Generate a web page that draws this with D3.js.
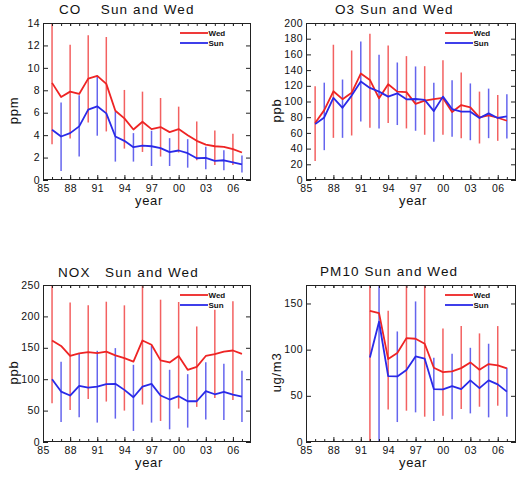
<!DOCTYPE html>
<html><head><meta charset="utf-8">
<script src="https://cdn.jsdelivr.net/npm/d3@7"></script>
<style>
html,body{margin:0;padding:0;background:#fff;}
svg{display:block;}
text{font-family:"Liberation Sans",Arial,Helvetica,sans-serif;fill:#111;}
</style></head>
<body>
<script>
const years = [1986,1987,1988,1989,1990,1991,1992,1993,1994,1995,1996,1997,1998,1999,2000,2001,2002,2003,2004,2005,2006,2007];
const xMajorTicks = [1985,1988,1991,1994,1997,2000,2003,2006];
const xTickLabels = ["85","88","91","94","97","00","03","06"];
const seriesNames = ["Wed","Sun"];

// CO (ppm)
const coWed = [8.66,7.4,7.88,7.67,9.04,9.28,8.57,6.18,5.49,4.5,5.19,4.54,4.72,4.27,4.54,4.0,3.49,3.16,3.01,2.96,2.75,2.45];
const coSun = [4.48,3.88,4.18,4.78,6.27,6.57,5.94,3.88,3.49,2.93,3.07,3.01,2.84,2.48,2.63,2.39,1.94,1.97,1.7,1.76,1.58,1.4];
const coWedHi = [14.5,null,12.06,null,12.9,null,12.75,null,8.03,null,7.88,null,7.31,null,6.54,null,5.22,null,4.42,null,4.12,null];
const coWedLo = [3.19,null,3.7,null,5.13,null,4.33,null,2.8,null,2.5,null,2.09,null,2.45,null,1.76,null,1.34,null,1.34,null];
const coSunHi = [null,6.9,null,7.55,null,9.31,null,6.12,null,4.18,null,4.39,null,3.73,null,3.64,null,2.96,null,2.66,null,2.18];
const coSunLo = [null,0.8,null,2.09,null,3.95,null,1.64,null,1.64,null,1.25,null,1.25,null,1.1,null,0.96,null,0.87,null,0.66];
const coTicks = [0,2,4,6,8,10,12,14];

// O3 (ppb)
const o3Wed = [72.5,89,113,103,111,135.6,127.5,104,122,112.6,112,97,101,103,104.5,86.6,95.5,92.5,79.7,82.3,79.3,75.5];
const o3Sun = [71.2,79.7,104.5,92,107.5,125.4,117.3,112.6,106.2,110.4,102.8,103.2,102,87.8,106.2,90.4,87,87,79,84.9,79,81];
const o3WedHi = [119.4,null,172.3,null,165,null,186.4,null,171.4,null,157.8,null,145,null,152.7,null,136.9,null,112.6,null,108.3,null];
const o3WedLo = [24.3,null,53.7,null,56.7,null,66.5,null,72.5,null,65.7,null,57.6,null,57.6,null,53.3,null,46.5,null,49.9,null];
const o3SunHi = [null,124,null,128,null,176.5,null,159.5,null,149.7,null,144.6,null,124,null,127,null,123,null,116.4,null,109.2];
const o3SunLo = [null,38,null,53.7,null,74.6,null,65.7,null,70,null,62.7,null,48.6,null,55,null,50.7,null,53.3,null,53];
const o3Ticks = [0,20,40,60,80,100,120,140,160,180,200];

// NOX (ppb)
const noxWed = [161.7,153,137,141,143,141.5,144,138,133.5,128,161.7,154.8,130,126.6,137,115,119.7,137,140,144,145.7,140.4];
const noxSun = [100,80.3,74,89.4,86.7,88.3,92,92.6,83,71.3,88.3,92.6,74,67.6,72.9,64.9,64.9,80.9,76,79.8,75.5,72.3];
const noxWedHi = [260,null,222,null,217.6,null,223.4,null,217.6,null,260,null,226.6,null,222.9,null,184,null,210.6,null,224,null];
const noxWedLo = [61.7,null,51,null,68.6,null,64.4,null,50,null,59.6,null,33.5,null,53.2,null,55.9,null,70.2,null,67,null];
const noxSunHi = [null,127.7,null,140,null,145.2,null,149.5,null,122.9,null,153.2,null,115,null,108,null,127,null,124.5,null,113.3];
const noxSunLo = [null,31.9,null,39.4,null,30.9,null,37.2,null,17.6,null,30.9,null,20.2,null,22.9,null,36,null,35,null,32];
const noxTicks = [0,50,100,150,200,250];

// PM10 (ug/m3)
const pmWed = [null,null,null,null,null,null,142,139.6,89.8,96.3,112.5,111.8,106.4,80.4,75.7,76.5,80,86.2,78.3,84.4,83,79.7];
const pmSun = [null,null,null,null,null,null,91.6,130.2,71.4,71,77.9,92.7,90.2,57.3,57,60.6,57.3,66.7,58.4,66.7,62.4,54.5];
const pmWedHi = [null,null,null,null,null,null,180,null,142,null,180,null,180,null,123,null,125.5,null,117.6,null,125.5,null];
const pmWedLo = [null,null,null,null,null,null,-5,null,35.3,null,33.9,null,27.4,null,28.5,null,35.7,null,38.2,null,39.3,null];
const pmSunHi = [null,null,null,null,null,null,null,180,null,119.7,null,152.2,null,91.2,null,95.6,null,102,null,106.4,null,80.4];
const pmSunLo = [null,null,null,null,null,null,null,-5,null,21.6,null,32.1,null,22.7,null,24.5,null,31,null,26.7,null,27.4];
const pmTicks = [0,50,100,150];

const panels = [
  {title:"CO    Sun and Wed", ylab:"ppm", ymax:14, ticks:coTicks, wed:coWed, sun:coSun, wHi:coWedHi, wLo:coWedLo, sHi:coSunHi, sLo:coSunLo,
   box:{l:43,t:23,r:251,b:180}, tx:59, ty:14},
  {title:"O3 Sun and Wed", ylab:"ppb", ymax:200, ticks:o3Ticks, wed:o3Wed, sun:o3Sun, wHi:o3WedHi, wLo:o3WedLo, sHi:o3SunHi, sLo:o3SunLo,
   box:{l:306,t:23,r:516,b:180}, tx:335, ty:14},
  {title:"NOX   Sun and Wed", ylab:"ppb", ymax:250, ticks:noxTicks, wed:noxWed, sun:noxSun, wHi:noxWedHi, wLo:noxWedLo, sHi:noxSunHi, sLo:noxSunLo,
   box:{l:43,t:285,r:251,b:442}, tx:58, ty:277},
  {title:"PM10 Sun and Wed", ylab:"ug/m3", ymax:170, ticks:pmTicks, wed:pmWed, sun:pmSun, wHi:pmWedHi, wLo:pmWedLo, sHi:pmSunHi, sLo:pmSunLo,
   box:{l:306,t:285,r:516,b:442}, tx:320, ty:276}
];

const RED = "#ee2424", BLUE = "#2a2ae8";
const svg = d3.select("body").append("svg").attr("width",530).attr("height",481);

panels.forEach((p,i) => {
  const b = p.box;
  const x = d3.scaleLinear().domain([1985,2008]).range([b.l,b.r]);
  const y = d3.scaleLinear().domain([0,p.ymax]).range([b.b,b.t]);
  const g = svg.append("g");

  const clipId = "clip"+i;
  svg.append("clipPath").attr("id",clipId).append("rect")
    .attr("x",b.l).attr("y",b.t).attr("width",b.r-b.l).attr("height",b.b-b.t);
  const plot = g.append("g").attr("clip-path",`url(#${clipId})`);

  // error bars
  const bars = (hi, lo, col) => {
    const idx = years.map((yr,k)=>k).filter(k => hi[k] != null && lo[k] != null);
    plot.selectAll(null).data(idx).enter().append("line")
      .attr("x1",k=>x(years[k])).attr("x2",k=>x(years[k]))
      .attr("y1",k=>y(hi[k])).attr("y2",k=>y(lo[k]))
      .attr("stroke",col).attr("stroke-width",1.5).attr("stroke-opacity",0.72);
  };
  bars(p.wHi,p.wLo,RED);
  bars(p.sHi,p.sLo,BLUE);

  const line = d3.line().defined(d=>d[1]!=null).x(d=>x(d[0])).y(d=>y(d[1]));
  plot.append("path").datum(years.map((yr,k)=>[yr,p.wed[k]])).attr("d",line)
    .attr("fill","none").attr("stroke",RED).attr("stroke-width",1.8).attr("stroke-linejoin","round");
  plot.append("path").datum(years.map((yr,k)=>[yr,p.sun[k]])).attr("d",line)
    .attr("fill","none").attr("stroke",BLUE).attr("stroke-width",1.8).attr("stroke-linejoin","round");

  // axes
  const axStyle = sel => { sel.select(".domain").remove(); sel.selectAll("line").attr("stroke","#222");
    sel.selectAll("text").attr("font-family","Liberation Sans, Arial, sans-serif").attr("font-size","10.5px")
      .attr("letter-spacing","0.4px").attr("fill","#111"); };
  g.append("g").attr("transform",`translate(0,${b.b})`)
    .call(d3.axisBottom(x).tickValues(xMajorTicks).tickSize(-5).tickPadding(5).tickFormat((d,k)=>xTickLabels[k])).call(axStyle);
  g.append("g").attr("transform",`translate(0,${b.b})`)
    .call(d3.axisBottom(x).tickValues(years).tickSize(-3).tickFormat("")).call(axStyle);
  g.append("g").attr("transform",`translate(0,${b.t})`)
    .call(d3.axisTop(x).tickValues(xMajorTicks.concat(years)).tickSize(-3).tickFormat("")).call(axStyle);
  const yl = g.append("g").attr("transform",`translate(${b.l},0)`)
    .call(d3.axisLeft(y).tickValues(p.ticks).tickSize(-5).tickPadding(3)).call(axStyle);
  yl.selectAll("text").attr("dy","0.3em");
  g.append("g").attr("transform",`translate(${b.r},0)`)
    .call(d3.axisRight(y).tickValues(p.ticks).tickSize(-5).tickFormat("")).call(axStyle);

  g.append("rect").attr("x",b.l+0.5).attr("y",b.t+0.5).attr("width",b.r-b.l-1).attr("height",b.b-b.t-1)
    .attr("fill","none").attr("stroke","#222").attr("stroke-width",1);

  // title
  g.append("text").attr("x",p.tx).attr("y",p.ty).style("white-space","pre")
    .attr("font-size","13.5px").attr("letter-spacing","1.1px").text(p.title);
  // axis labels
  g.append("text").attr("x",(b.l+b.r)/2+2).attr("y",b.b+25).attr("text-anchor","middle")
    .attr("font-size","13px").attr("letter-spacing","0.7px").text("year");
  const cy = (b.t+b.b)/2+9;
  g.append("text").attr("transform",`translate(${b.l-25},${cy}) rotate(-90)`).attr("text-anchor","middle")
    .attr("font-size","13px").attr("letter-spacing","0.7px").text(p.ylab);

  // legend
  const lx1 = b.r-71, lx2 = b.r-43;
  [[seriesNames[0],RED,b.t+10],[seriesNames[1],BLUE,b.t+20]].forEach(([nm,col,ly]) => {
    g.append("line").attr("x1",lx1).attr("x2",lx2).attr("y1",ly).attr("y2",ly)
      .attr("stroke",col).attr("stroke-width",1.8);
    g.append("text").attr("x",lx2+0.5).attr("y",ly+3).attr("font-size","8px").attr("font-weight","bold").text(nm);
  });
});
</script>
</body></html>
